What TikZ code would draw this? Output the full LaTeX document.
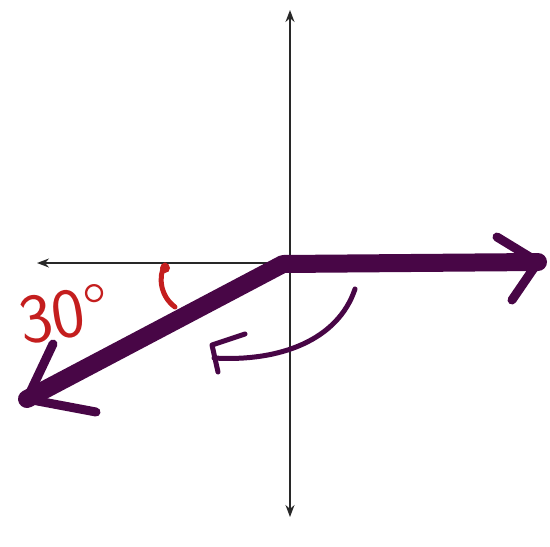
\documentclass[tikz,border=0pt]{standalone}
\usetikzlibrary{arrows.meta}
\definecolor{vecpurple}{RGB}{72,6,70}
\definecolor{handred}{RGB}{196,30,30}
\definecolor{axisgray}{RGB}{40,40,40}
\tikzset{
  axisline/.style={draw=axisgray, line width=1.6pt, -{Stealth[length=12pt,width=9pt]}},
  vecline/.style={draw=vecpurple, line width=18pt, line cap=round, line join=round},
  barbline/.style={draw=vecpurple, line width=9pt, line cap=round, line join=round},
  turnline/.style={draw=vecpurple, line width=5pt, line cap=round, line join=round},
  redmark/.style={draw=handred, line width=5pt, line cap=round},
  redlabel/.style={text=handred, font=\sffamily\fontsize{70}{70}\selectfont, inner sep=0pt}
}
\begin{document}
\begin{tikzpicture}[x=1pt,y=-1pt]
\useasboundingbox (0,0) rectangle (550,547);
% axes
\coordinate (ytop) at (290,10);
\coordinate (ybot) at (290,517);
\coordinate (ymid) at (290,263);
\coordinate (xleft) at (37,263);
\coordinate (xorig) at (290,263);
\draw[axisline] (ymid) -- (ytop);
\draw[axisline] (ymid) -- (ybot);
\draw[axisline] (xorig) -- (xleft);
% purple vectors
\coordinate (O) at (283,264);
\coordinate (R) at (538,262);
\coordinate (Rb1) at (497,237);
\coordinate (Rb2) at (512,300);
\coordinate (L) at (27,399);
\coordinate (Lb1) at (53,344);
\coordinate (Lb2) at (96,412);
\draw[vecline] (L) -- (O) -- (R);
\draw[barbline] (Rb1) -- (R) -- (Rb2);
\draw[barbline] (Lb1) -- (L) -- (Lb2);
% rotation arrow
\coordinate (c0) at (355,289);
\coordinate (c1) at (214,358);
\coordinate (h1) at (245,334);
\coordinate (h2) at (212,345);
\coordinate (h3) at (218,372);
\draw[turnline] (c0) .. controls (338,340) and (280,362) .. (c1);
\draw[turnline] (h1) -- (h2) -- (h3);
% angle mark and label
\coordinate (m0) at (165,265);
\coordinate (m1) at (175,307);
\draw[redmark] (m0) .. controls (158,276) and (160,296) .. (m1);
\fill[handred] (165,268) circle (5);
\node[redlabel, rotate=9] (lab) at (64,314) {30°};
\end{tikzpicture}
\end{document}
